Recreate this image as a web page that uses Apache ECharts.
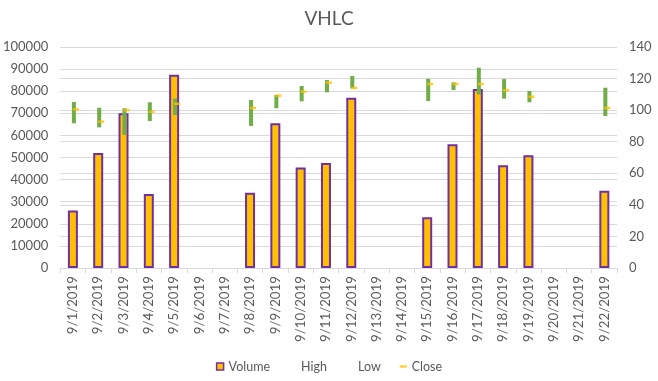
<!DOCTYPE html>
<html>
<head>
<meta charset="utf-8">
<script src="https://cdn.jsdelivr.net/npm/echarts@6/dist/echarts.min.js"></script>
<style>html,body{margin:0;padding:0;background:#fff;}#c{width:658px;height:381px;}</style>
</head>
<body>
<div id="c"></div>
<script>
var categories = ['9/1/2019','9/2/2019','9/3/2019','9/4/2019','9/5/2019','9/6/2019','9/7/2019','9/8/2019','9/9/2019','9/10/2019','9/11/2019','9/12/2019','9/13/2019','9/14/2019','9/15/2019','9/16/2019','9/17/2019','9/18/2019','9/19/2019','9/20/2019','9/21/2019','9/22/2019'];
var volume = [26000,52000,70000,33500,87500,null,null,34000,65500,45500,47500,77000,null,null,23000,56000,81000,46500,51000,null,null,35000];
var high   = [105.2,101.5,101.2,105,107.3,null,null,106.4,109.6,115.3,119.1,121.6,null,null,119.9,117.6,126.9,119.7,112.1,null,null,114.2];
var low    = [91.7,89.1,84.3,93.1,96.9,null,null,90,101.2,105.6,111.3,113.8,null,null,105.8,112.8,110,107.3,105,null,null,96.3];
var close  = [100.5,92.7,99.9,99,104,null,null,101.4,109.2,111.7,117.4,114,null,null,116.6,116.6,116.6,112.6,108.5,null,null,101.4];
var leftTicks = {min:0, max:100000, interval:10000};
var rightTicks = {min:0, max:140, interval:20};

var hl = categories.map(function(c,i){ return [i, high[i], low[i]]; });
var closeData = categories.map(function(c,i){ return [i, close[i]]; });

var FONT = 'Lato';
var chart = echarts.init(document.getElementById('c'));
chart.setOption({
  animation:false,
  textStyle:{fontFamily:FONT},
  title:{text:'VHLC', left:'center', top:4, textStyle:{fontFamily:FONT, fontSize:19, fontWeight:'normal', color:'#595959'}},
  grid:{left:58, right:41, top:47, bottom:113, containLabel:false},
  legend:{
    bottom:3, left:'center', itemWidth:7, itemHeight:7, itemGap:19,
    textStyle:{fontFamily:FONT, fontSize:12.5, color:'#595959'},
    data:[
      {name:'Volume', icon:'rect', itemStyle:{color:'#FFC000', borderColor:'#7030A0', borderWidth:1.5}},
      {name:'High', icon:'rect', itemStyle:{opacity:0}},
      {name:'Low', icon:'rect', itemStyle:{opacity:0}},
      {name:'Close', icon:'path://M0,3L6,3L6,5L0,5Z', itemStyle:{color:'#FFC000'}}
    ]
  },
  xAxis:{
    type:'category', data:categories, boundaryGap:true,
    axisLine:{lineStyle:{color:'#D9D9D9'}},
    axisTick:{show:true, length:5, lineStyle:{color:'#D9D9D9'}},
    axisLabel:{rotate:90, interval:0, fontFamily:FONT, fontSize:13.3, color:'#595959', margin:8}
  },
  yAxis:[
    {type:'value', min:leftTicks.min, max:leftTicks.max, interval:leftTicks.interval,
     axisLine:{show:false}, axisTick:{show:false},
     axisLabel:{fontFamily:FONT, fontSize:13, color:'#595959', margin:12, formatter:function(v){return String(v);}},
     splitLine:{lineStyle:{color:'#D9D9D9'}}},
    {type:'value', min:rightTicks.min, max:rightTicks.max, interval:rightTicks.interval, position:'right',
     axisLine:{show:false}, axisTick:{show:false},
     axisLabel:{fontFamily:FONT, fontSize:13, color:'#595959', margin:12},
     splitLine:{show:true, lineStyle:{color:'#D9D9D9'}}}
  ],
  series:[
    {name:'Volume', type:'bar', yAxisIndex:0, data:volume, barWidth:10,
     itemStyle:{color:'#FFC000', borderColor:'#7030A0', borderWidth:2}},
    {name:'High', type:'custom', yAxisIndex:1, data:hl, encode:{x:0, y:[1,2]},
     renderItem:function(params, api){
       if (api.value(1) == null || isNaN(api.value(1))) return;
       var p1 = api.coord([api.value(0), api.value(1)]);
       var p2 = api.coord([api.value(0), api.value(2)]);
       return {type:'rect', shape:{x:p1[0]-1, y:p1[1], width:4, height:p2[1]-p1[1]}, style:{fill:'#70AD47'}};
     }, z:3},
    {name:'Low', type:'line', yAxisIndex:1, data:low, symbol:'none', lineStyle:{opacity:0, width:0}, z:1},
    {name:'Close', type:'scatter', yAxisIndex:1, data:closeData, symbol:'rect', symbolSize:[6,2.5], symbolOffset:[3,0],
     itemStyle:{color:'#FFC000'}, z:4}
  ]
});
</script>
</body>
</html>
